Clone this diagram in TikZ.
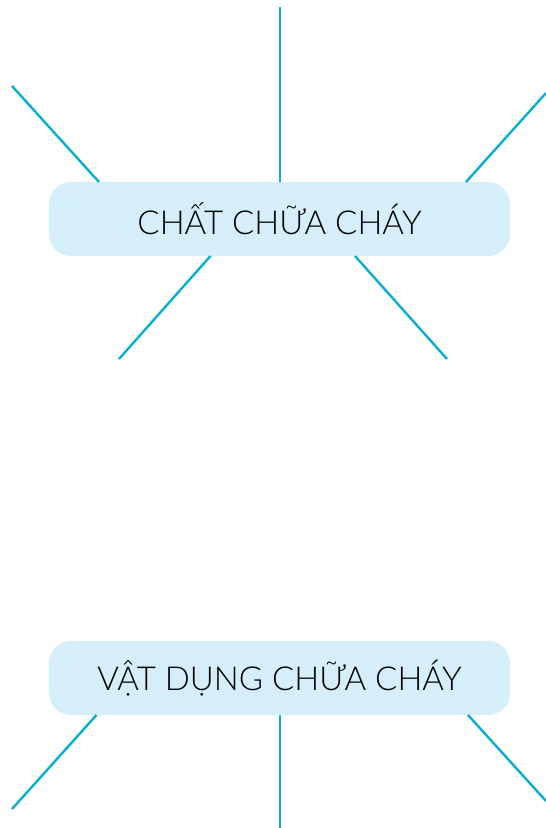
\documentclass[tikz,border=0pt]{standalone}
\usepackage{fontspec}
\setmainfont{Lato}[UprightFont=* Light]
\definecolor{linec}{HTML}{0AADD8}
\definecolor{boxc}{HTML}{D4EEFA}
\begin{document}
\begin{tikzpicture}[x=1pt,y=-1pt,
  box/.style={fill=boxc, rounded corners=22pt, minimum width=461pt, minimum height=74pt, inner sep=0pt,
    font=\fontsize{33}{40}\selectfont, text=black},
  spoke/.style={draw=linec, line width=2.4pt}]
\useasboundingbox (0,0) rectangle (546,828);
\node[box] (b1) at (279.5,219) {CHẤT CHỮA CHÁY};
\node[box] (b2) at (279.5,678) {VẬT DỤNG CHỮA CHÁY};
% spokes of box 1
\coordinate (t1) at (280,7);
\coordinate (ul) at (12,86);
\coordinate (ur) at (546,93);
\coordinate (ll) at (119,359);
\coordinate (lr) at (447,359);
\draw[spoke] (t1) -- (b1.north -| t1);
\draw[spoke] (ul) -- (99,182);
\draw[spoke] (ur) -- (466,182);
\draw[spoke] (ll) -- (210.5,256);
\draw[spoke] (lr) -- (355,256);
% spokes of box 2
\coordinate (bl) at (12,809);
\coordinate (bv) at (280,828);
\coordinate (br) at (546,801);
\draw[spoke] (bl) -- (96.5,715);
\draw[spoke] (bv) -- (b2.south -| bv);
\draw[spoke] (br) -- (468,715);
\end{tikzpicture}
\end{document}
